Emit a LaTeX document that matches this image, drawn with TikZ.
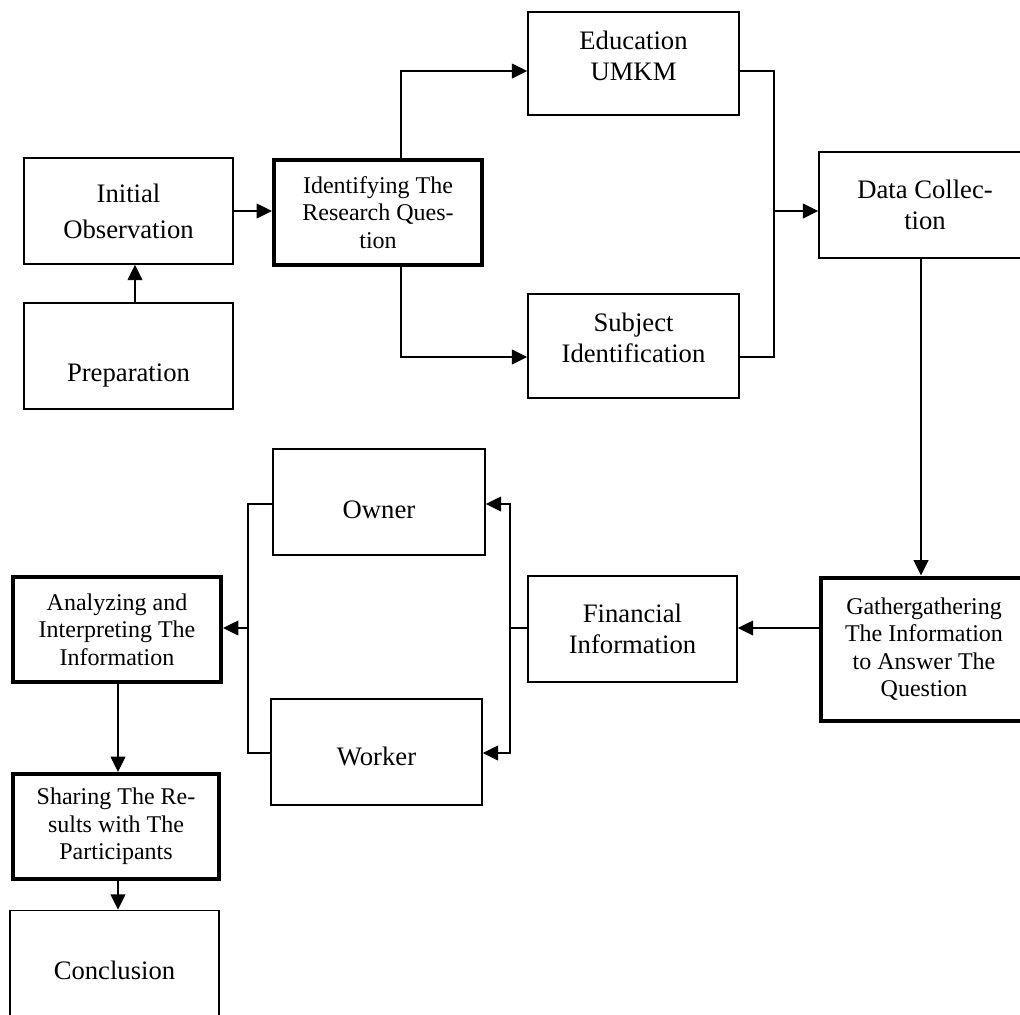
\documentclass[tikz,border=0pt]{standalone}
\usepackage{fontspec}
\setmainfont{Liberation Serif}
\usetikzlibrary{arrows.meta}
\begin{document}
\begin{tikzpicture}[x=0.75pt,y=-0.75pt,
  box/.style={draw,line width=1.1pt,inner sep=0pt,align=center,font=\fontsize{20}{23}\selectfont},
  thickbox/.style={box,line width=3pt,font=\fontsize{18}{20.5}\selectfont},
  conn/.style={line width=1.1pt},
  arr/.style={conn,-{Triangle[length=11.5pt,width=11pt]}}]
\useasboundingbox (0,0) rectangle (1020,1014);
\clip (0,0) rectangle (1020,1014);
% boxes
\node[box,font=\fontsize{20}{27}\selectfont,minimum width={209*0.75pt},minimum height={106*0.75pt}] (init) at (128.5,211) {Initial\\Observation};
\node[thickbox,minimum width={208*0.75pt},minimum height={105*0.75pt}] (ident) at (378,212.5) {Identifying The\\Research Ques-\\tion};
\node[box,minimum width={209*0.75pt},minimum height={106*0.75pt}] (prep) at (128.5,356) {\rule{0pt}{19pt}\\Preparation};
\node[box,minimum width={211*0.75pt},minimum height={103*0.75pt}] (edu) at (633.5,63.5) {Education\\UMKM\rule[-12pt]{0pt}{12pt}};
\node[box,minimum width={211*0.75pt},minimum height={104*0.75pt}] (subj) at (633.5,346) {Subject\\Identification\rule[-12pt]{0pt}{12pt}};
\node[box,minimum width={212*0.75pt},minimum height={106*0.75pt}] (data) at (925,205) {Data Collec-\\tion};
\node[thickbox,minimum width={206*0.75pt},minimum height={143*0.75pt}] (gath) at (924,649) {Gathergathering\\The Information\\to Answer The\\Question};
\node[box,minimum width={209*0.75pt},minimum height={106*0.75pt}] (fin) at (632.5,629) {Financial\\Information};
\node[box,minimum width={212*0.75pt},minimum height={106*0.75pt}] (owner) at (379,502) {\rule{0pt}{25pt}Owner};
\node[box,minimum width={211*0.75pt},minimum height={106*0.75pt}] (worker) at (376.5,752) {\rule{0pt}{21pt}Worker};
\node[thickbox,minimum width={208*0.75pt},minimum height={105*0.75pt}] (anal) at (117,629.5) {Analyzing and\\Interpreting The\\Information};
\node[thickbox,minimum width={206*0.75pt},minimum height={105*0.75pt}] (share) at (116,826.5) {Sharing The Re-\\sults with The\\Participants};
\node[box,minimum width={209*0.75pt},minimum height={120*0.75pt}] (concl) at (114.5,970.5) {Conclusion};
% routing points
\coordinate (xp) at (135,0);
\coordinate (ya) at (0,211);
\coordinate (bA) at (401,71);
\coordinate (bB) at (401,357);
\coordinate (bC) at (774,71);
\coordinate (bD) at (774,357);
\coordinate (bE) at (774,211);
\coordinate (xd) at (921,0);
\coordinate (yg) at (0,628);
\coordinate (bF) at (510,628);
\coordinate (bG) at (510,504);
\coordinate (bH) at (510,753);
\coordinate (bI) at (248,504);
\coordinate (bJ) at (248,753);
\coordinate (bK) at (248,628);
\coordinate (xa) at (118,0);
% connectors
\draw[arr] (prep.north -| xp) -- (init.south -| xp);
\draw[arr] (init.east |- ya) -- (ident.west |- ya);
\draw[arr] (ident.north -| bA) |- (edu.west |- bA);
\draw[arr] (ident.south -| bB) |- (subj.west |- bB);
\draw[conn] (edu.east |- bC) -| (bD) -- (subj.east |- bD);
\draw[arr] (bE) -- (data.west |- bE);
\draw[arr] (data.south -| xd) -- (gath.north -| xd);
\draw[arr] (gath.west |- yg) -- (fin.east |- yg);
\draw[conn] (fin.west |- yg) -- (bF);
\draw[arr] (bF) |- (owner.east |- bG);
\draw[arr] (bF) |- (worker.east |- bH);
\draw[conn] (owner.west |- bI) -| (bJ) -- (worker.west |- bJ);
\draw[arr] (bK) -- (anal.east |- bK);
\draw[arr] (anal.south -| xa) -- (share.north -| xa);
\draw[arr] (share.south -| xa) -- (concl.north -| xa);
\end{tikzpicture}
\end{document}
